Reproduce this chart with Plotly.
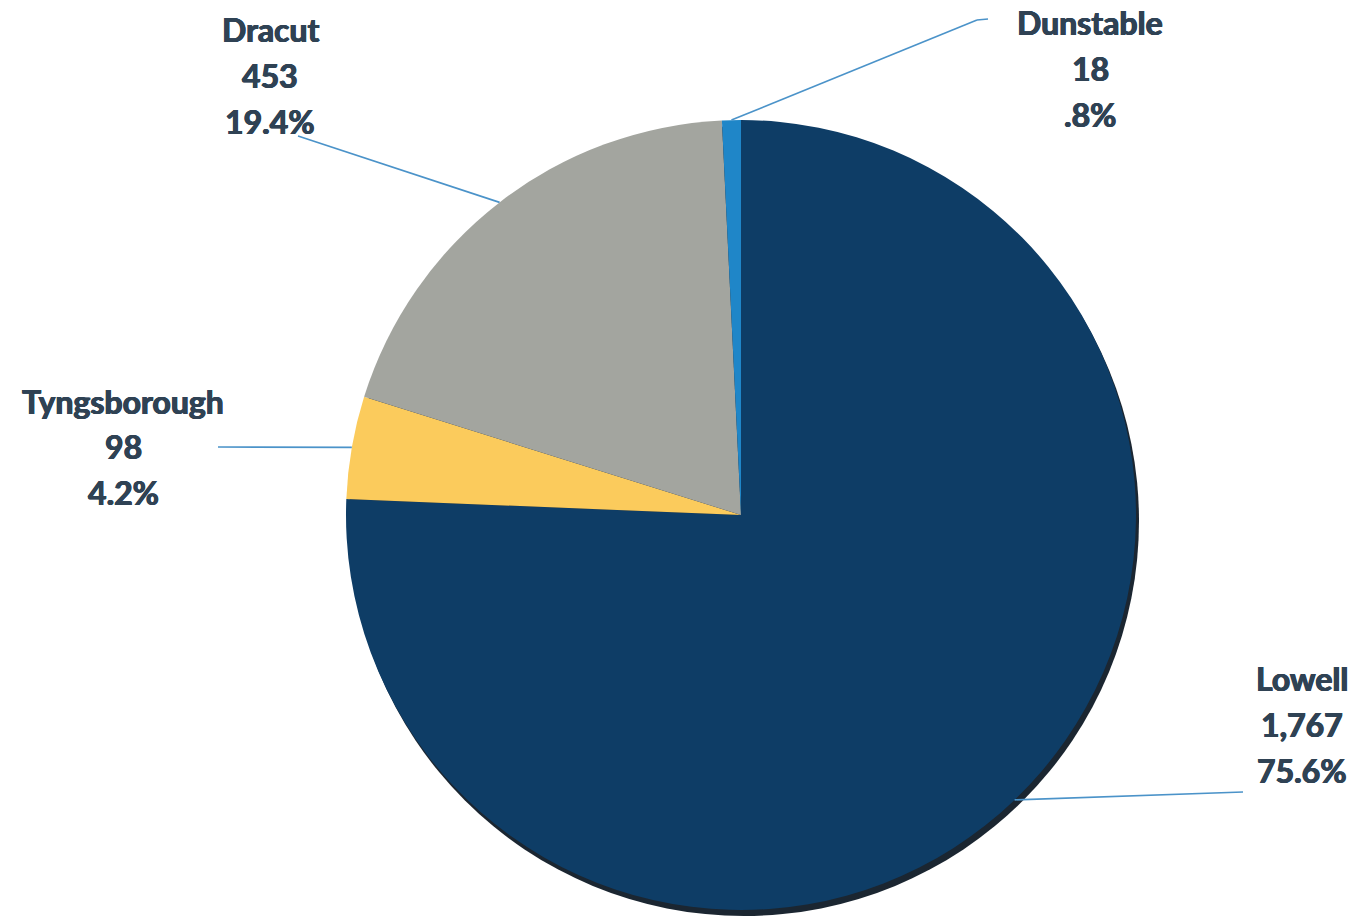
import plotly.graph_objects as go
import math

# Town breakdown
towns = ["Lowell", "Tyngsborough", "Dracut", "Dunstable"]
counts = [1767, 98, 453, 18]
colors = ["#0e3d66", "#fbcb5c", "#a3a59f", "#1f86c8"]

W, H = 1361, 923
CX, CY, R = 741, 515, 395  # pie centre and radius in pixels

# label block centres (pixels) and outer leader-line anchors
label_pos = {
    "Lowell": (1302, 678),
    "Tyngsborough": (123, 401),
    "Dracut": (270, 30),
    "Dunstable": (1090, 22),
}
line_outer = {
    "Lowell": [(1243, 792)],
    "Tyngsborough": [(218, 447)],
    "Dracut": [(298, 136)],
    "Dunstable": [(977, 20), (988, 19)],
}
LINE_GAP = 46
TEXT_COLOR = "#2f4254"

def px(x):
    return x / W

def py(y):
    return 1 - y / H

total = sum(counts)

def pct_text(v):
    s = f"{100 * v / total:.1f}%"
    return s[1:] if s.startswith("0.") else s

fig = go.Figure()

# soft dark rim under the pie
off_x, off_y = 3, 6
fig.add_trace(go.Pie(
    values=[1], marker=dict(colors=["#1b2631"], line=dict(width=0)),
    textinfo="none", hoverinfo="skip", showlegend=False, sort=False,
    domain=dict(x=[px(CX - R + off_x), px(CX + R + off_x)],
                y=[py(CY + R + off_y), py(CY - R + off_y)]),
))

fig.add_trace(go.Pie(
    labels=towns, values=counts, sort=False, direction="clockwise", rotation=0,
    marker=dict(colors=colors, line=dict(width=0)),
    textinfo="none", showlegend=False,
    domain=dict(x=[px(CX - R), px(CX + R)], y=[py(CY + R), py(CY - R)]),
))

# heavy label face: bold Lato thickened slightly with a tight text shadow
font = dict(family="Lato", size=32, color=TEXT_COLOR, weight="bold",
            shadow=f"0.6px 0 0 {TEXT_COLOR}, -0.6px 0 0 {TEXT_COLOR}, 0 0.4px 0 {TEXT_COLOR}")
annotations = []
shapes = []
cum = 0
for name, v in zip(towns, counts):
    mid = (cum + v / 2) / total * 2 * math.pi
    cum += v
    ex = CX + R * math.sin(mid)
    ey = CY - R * math.cos(mid)
    pts = [(ex, ey)] + line_outer[name]
    for (x0, y0), (x1, y1) in zip(pts[:-1], pts[1:]):
        shapes.append(dict(type="line", xref="paper", yref="paper",
                           x0=px(x0), y0=py(y0), x1=px(x1), y1=py(y1),
                           line=dict(color="#4b93c9", width=1.6)))
    lx, ly = label_pos[name]
    for i, t in enumerate([name, f"{v:,}", pct_text(v)]):
        annotations.append(dict(text=t, x=px(lx), y=py(ly + i * LINE_GAP),
                                xref="paper", yref="paper", showarrow=False,
                                xanchor="center", yanchor="middle", font=font))

fig.update_layout(
    width=W, height=H, margin=dict(l=0, r=0, t=0, b=0),
    paper_bgcolor="white", plot_bgcolor="white",
    annotations=annotations, shapes=shapes,
)

fig.write_html("out.html")
